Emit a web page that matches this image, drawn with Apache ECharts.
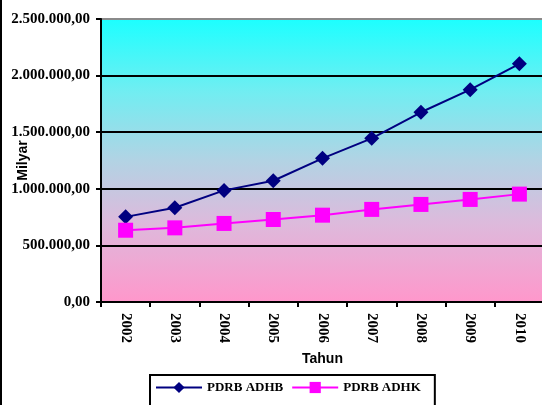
<!DOCTYPE html>
<html><head><meta charset="utf-8">
<script src="https://cdn.jsdelivr.net/npm/echarts@6/dist/echarts.min.js"></script>
<style>html,body{margin:0;padding:0;background:#fff}#c{width:542px;height:405px}</style>
</head><body><div id="c"></div>
<script>
const years = ['2002','2003','2004','2005','2006','2007','2008','2009','2010'];
const adhb = [752000, 832000, 986000, 1071000, 1269000, 1446000, 1676000, 1876000, 2104000];
const adhk = [634000, 655000, 694000, 729000, 767000, 818000, 862000, 906000, 953000];
const seriesNames = ['PDRB ADHB', 'PDRB ADHK'];

function fmt(v){
  const s = Math.round(v).toString().replace(/\B(?=(\d{3})+(?!\d))/g, '.');
  return s + ',00';
}
const chart = echarts.init(document.getElementById('c'), null, {renderer:'canvas'});
const serif = '"Liberation Serif", "Times New Roman", serif';
const sans = '"Liberation Sans", Arial, sans-serif';
chart.setOption({
  animation:false,
  backgroundColor:'#fff',
  graphic:[{type:'rect', shape:{x:0,y:0,width:2,height:405}, style:{fill:'#000'}}],
  grid:{left:101, top:19, right:-2, bottom:103, show:true, borderWidth:0,
    containLabel:false, outerBoundsMode:'none',
    backgroundColor:new echarts.graphic.LinearGradient(0,0,0,1,[
      {offset:0,color:'#1CFFFF'},
      {offset:0.25,color:'#6FEEF2'},
      {offset:0.5,color:'#B2D3E4'},
      {offset:0.72,color:'#DDBADC'},
      {offset:1,color:'#FF97CB'}
    ])},
  legend:{
    data:seriesNames, left:150, top:375,
    padding:[6,14,20,5], itemWidth:46, itemHeight:14, itemGap:8,
    borderColor:'#000', borderWidth:2, backgroundColor:'#fff',
    textStyle:{fontFamily:serif, fontWeight:'bold', fontSize:13, color:'#000'}
  },
  xAxis:{
    type:'category', data:years, boundaryGap:true,
    name:'Tahun', nameLocation:'middle', nameGap:50, nameMoveOverlap:false,
    nameTextStyle:{fontFamily:sans, fontWeight:'bold', fontSize:14, color:'#000'},
    axisLine:{lineStyle:{color:'#000', width:2}},
    axisTick:{show:true, length:5, lineStyle:{color:'#000', width:2}},
    axisLabel:{rotate:-90, margin:11, fontFamily:serif, fontWeight:'bold', fontSize:15, color:'#000'}
  },
  yAxis:{
    type:'value', min:0, max:2500000, interval:500000,
    name:'Milyar', nameLocation:'middle', nameGap:71, nameRotate:90, nameMoveOverlap:false,
    nameTextStyle:{fontFamily:sans, fontWeight:'bold', fontSize:14, color:'#000'},
    axisLine:{show:true, lineStyle:{color:'#000', width:2}},
    axisTick:{show:true, length:5, lineStyle:{color:'#000', width:2}},
    splitLine:{show:true, lineStyle:{color:['#000','#000','#000','#000','#000','#8a8a8a'], width:2}},
    axisLabel:{margin:11, formatter:fmt, fontFamily:serif, fontWeight:'bold', fontSize:15, color:'#000'}
  },
  series:[
    {name:seriesNames[0], type:'line', data:adhb, symbol:'diamond', symbolSize:15,
      lineStyle:{color:'#000080', width:2}, itemStyle:{color:'#000080'}},
    {name:seriesNames[1], type:'line', data:adhk, symbol:'rect', symbolSize:15,
      lineStyle:{color:'#FF00FF', width:2}, itemStyle:{color:'#FF00FF'}}
  ]
});
</script></body></html>
